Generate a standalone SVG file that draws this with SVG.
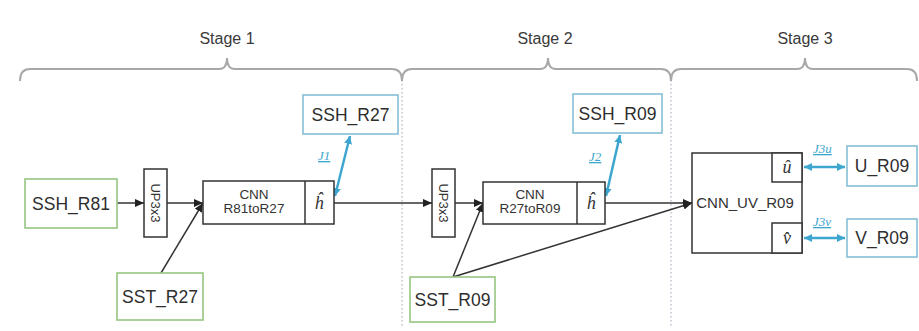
<svg xmlns="http://www.w3.org/2000/svg" width="919" height="331" viewBox="0 0 919 331">
<style>
text{font-family:"Liberation Sans",Arial,sans-serif;fill:#333}
.stage{font-size:16px;fill:#3a3a3a;text-anchor:middle}
.brace{fill:none;stroke:#a8a8a8;stroke-width:2}
.div{stroke:#9aa6b4;stroke-width:1;stroke-dasharray:1.5 2.5}
.green{fill:#fff;stroke:#95c681;stroke-width:1.6}
.blue{fill:#fff;stroke:#86c0d6;stroke-width:1.6}
.blk{fill:#fff;stroke:#333;stroke-width:1.5}
.lbl{font-size:17.5px;text-anchor:middle;fill:#2e2e2e}
.small{font-size:13.5px;text-anchor:middle}
.up{font-size:13px;text-anchor:middle}
.hat{font-family:"Liberation Serif",serif;font-style:italic;font-size:18px;text-anchor:middle}
.j{font-family:"Liberation Serif",serif;font-style:italic;font-size:13px;fill:#3da6cf;text-decoration:underline}
.conn{stroke:#333;stroke-width:1.5;fill:none}
.bconn{stroke:#3da6cf;stroke-width:2.5;fill:none}
</style>
<defs>
<marker id="ah" markerUnits="userSpaceOnUse" markerWidth="10" markerHeight="8" refX="9" refY="4" orient="auto">
<path d="M0,0 L9,4 L0,8 Z" fill="#222"/>
</marker>
<marker id="bh" markerUnits="userSpaceOnUse" markerWidth="9" markerHeight="8" refX="8" refY="4" orient="auto-start-reverse">
<path d="M0,0 L8,4 L0,8 Z" fill="#3da6cf"/>
</marker>
</defs>

<g id="stages">
<text class="stage" x="227" y="44">Stage 1</text>
<text class="stage" x="545" y="44">Stage 2</text>
<text class="stage" x="805" y="44">Stage 3</text>
<path class="brace" d="M20,81 Q20,69 30,69 L219,69 Q227,69 227,58 Q227,69 235,69 L392,69 Q402,69 402,81"/>
<path class="brace" d="M402,81 Q402,69 412,69 L540,69 Q548,69 548,58 Q548,69 556,69 L661,69 Q671,69 671,81"/>
<path class="brace" d="M671,81 Q671,69 681,69 L797,69 Q805,69 805,58 Q805,69 813,69 L907,69 Q917,69 917,81"/>
<line class="div" x1="402" y1="80" x2="402" y2="326"/>
<line class="div" x1="671" y1="80" x2="671" y2="326"/>
</g>

<g id="connectors">
<line class="conn" x1="117" y1="203" x2="144" y2="203" marker-end="url(#ah)"/>
<line class="conn" x1="167" y1="203" x2="203" y2="203" marker-end="url(#ah)"/>
<line class="conn" x1="161" y1="273" x2="203" y2="203" marker-end="url(#ah)"/>
<line class="conn" x1="334" y1="203" x2="432" y2="203" marker-end="url(#ah)"/>
<line class="conn" x1="455" y1="203" x2="483" y2="203" marker-end="url(#ah)"/>
<line class="conn" x1="453" y1="277" x2="483" y2="203" marker-end="url(#ah)"/>
<line class="conn" x1="453" y1="277" x2="692" y2="203" marker-end="url(#ah)"/>
<line class="conn" x1="605" y1="203" x2="692" y2="203" marker-end="url(#ah)"/>
<line class="bconn" x1="335" y1="196" x2="350" y2="136" marker-start="url(#bh)" marker-end="url(#bh)"/>
<line class="bconn" x1="606" y1="196" x2="620" y2="135" marker-start="url(#bh)" marker-end="url(#bh)"/>
<line class="bconn" x1="804" y1="167" x2="845" y2="167" marker-start="url(#bh)" marker-end="url(#bh)"/>
<line class="bconn" x1="804" y1="238" x2="845" y2="238" marker-start="url(#bh)" marker-end="url(#bh)"/>
<text class="j" x="318" y="160">J1</text>
<text class="j" x="589" y="161">J2</text>
<text class="j" x="813" y="153">J3u</text>
<text class="j" x="813" y="226">J3v</text>
</g>

<g id="ssh_r81">
<rect class="green" x="25" y="179" width="92" height="49"/>
<text class="lbl" x="71" y="210">SSH_R81</text>
</g>
<g id="up3x3_1">
<rect class="blk" x="144" y="169" width="23" height="68"/>
<text class="up" transform="translate(155.5,203) rotate(90)" y="4.5">UP3x3</text>
</g>
<g id="sst_r27">
<rect class="green" x="117" y="273" width="86" height="47"/>
<text class="lbl" x="160" y="303">SST_R27</text>
</g>
<g id="cnn_r81tor27">
<rect class="blk" x="203" y="181" width="131" height="43"/>
<line class="blk" x1="305" y1="181" x2="305" y2="224"/>
<text class="small" x="254" y="199">CNN</text>
<text class="small" x="254" y="213">R81toR27</text>
<text class="hat" x="319" y="209">ĥ</text>
</g>
<g id="ssh_r27">
<rect class="blue" x="303" y="95" width="95" height="39"/>
<text class="lbl" x="350.5" y="121">SSH_R27</text>
</g>
<g id="up3x3_2">
<rect class="blk" x="432" y="169" width="23" height="68"/>
<text class="up" transform="translate(443.5,203) rotate(90)" y="4.5">UP3x3</text>
</g>
<g id="sst_r09">
<rect class="green" x="410" y="277" width="85" height="45"/>
<text class="lbl" x="452.5" y="306">SST_R09</text>
</g>
<g id="cnn_r27tor09">
<rect class="blk" x="483" y="182" width="122" height="42"/>
<line class="blk" x1="577" y1="182" x2="577" y2="224"/>
<text class="small" x="530" y="199">CNN</text>
<text class="small" x="530" y="213">R27toR09</text>
<text class="hat" x="591" y="209">ĥ</text>
</g>
<g id="ssh_r09">
<rect class="blue" x="573" y="94" width="89" height="39"/>
<text class="lbl" x="617.5" y="120">SSH_R09</text>
</g>
<g id="cnn_uv_r09">
<rect class="blk" x="692" y="153" width="110" height="100"/>
<rect class="blk" x="772" y="153" width="30" height="29"/>
<rect class="blk" x="772" y="223" width="30" height="30"/>
<text x="745" y="208" style="font-size:15px;text-anchor:middle">CNN_UV_R09</text>
<text class="hat" x="787" y="173">û</text>
<text class="hat" x="787" y="244">v̂</text>
</g>
<g id="u_r09">
<rect class="blue" x="847" y="146" width="70" height="40"/>
<text class="lbl" x="882" y="172">U_R09</text>
</g>
<g id="v_r09">
<rect class="blue" x="847" y="219" width="70" height="38"/>
<text class="lbl" x="882" y="244">V_R09</text>
</g>
</svg>
